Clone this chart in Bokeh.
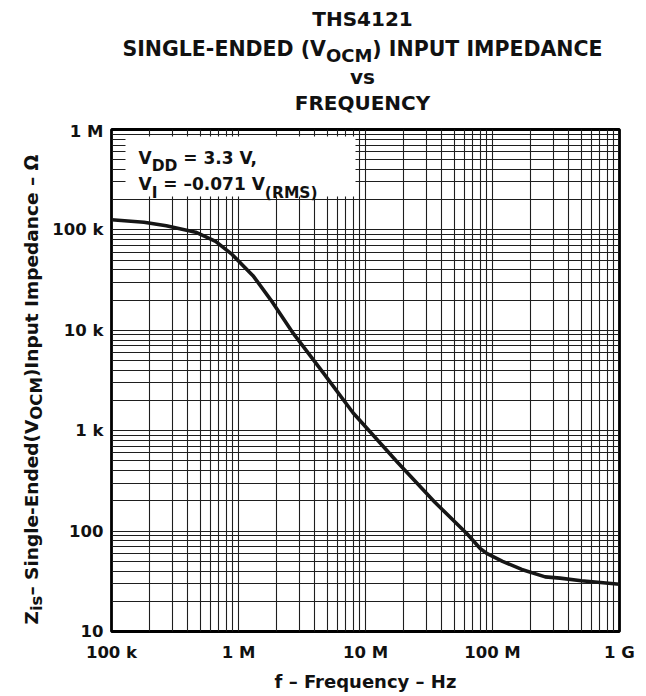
import math
from bokeh.plotting import figure
from bokeh.layouts import row, column
from bokeh.models import Label, BoxAnnotation, FixedTicker
from bokeh.embed import file_html
from bokeh.resources import INLINE

# ---- data ----
freq_hz = [1e5, 1.8e5, 2.7e5, 4.6e5, 6.6e5, 8.9e5, 1.3e6, 1.8e6, 2.7e6, 4.7e6,
           8.0e6, 1.8e7, 3.5e7, 6.3e7, 8.0e7, 9.0e7, 1.2e8, 1.7e8, 2.6e8, 3.4e8,
           5.0e8, 1e9]
z_ohm = [126e3, 119e3, 110e3, 95e3, 77e3, 57e3, 35e3, 20e3, 9.3e3, 3.7e3,
         1.5e3, 480, 195, 94, 67, 60, 50, 41.5, 35, 34,
         32, 29.5]

x_major = [1e5, 1e6, 1e7, 1e8, 1e9]
x_labels = ["100 k", "1 M", "10 M", "100 M", "1 G"]
y_major = [10, 100, 1e3, 1e4, 1e5, 1e6]
y_labels = ["10", "100", "1 k", "10 k", "100 k", "1 M"]

FONT = "DejaVu Sans"
INK = "#111111"

# DejaVu Sans Bold advance widths (em)
W = {" ": .348, "0": .696, "1": .696, "2": .696, "3": .696, "4": .696, "5": .696,
     "6": .696, "7": .696, "8": .696, "9": .696, "(": .457, ")": .457, "-": .415,
     "=": .838, ",": .380, ".": .380, "–": .500, "A": .774, "C": .734, "D": .830,
     "E": .683, "F": .683, "G": .821, "H": .837, "I": .372, "L": .637, "M": .995,
     "N": .837, "O": .850, "P": .733, "Q": .850, "R": .770, "S": .720, "T": .682,
     "U": .812, "V": .774, "Y": .724, "Z": .725, "a": .675, "c": .593, "d": .716,
     "e": .678, "f": .435, "g": .716, "i": .343, "k": .665, "l": .343, "m": 1.042,
     "n": .712, "p": .716, "q": .716, "r": .493, "s": .595, "t": .478, "u": .712,
     "v": .652, "y": .652, "z": .582, "Ω": .846}


def tw(s, size):
    return sum(W.get(c, .65) for c in s) * size


def blank(w, h):
    f = figure(width=w, height=h, output_backend="svg", toolbar_location=None,
               x_axis_location=None, y_axis_location=None,
               min_border=0, x_range=(0, 1), y_range=(0, 1))
    f.outline_line_color = None
    f.grid.visible = False
    f.background_fill_color = "white"
    f.border_fill_color = "white"
    return f


def put(fig, text, x, y, size, angle=0.0):
    fig.add_layout(Label(x=x, y=y, x_units="screen", y_units="screen", text=text,
                         text_font=FONT, text_font_style="bold",
                         text_font_size=f"{size}px", text_color=INK,
                         angle=angle, text_align="left",
                         text_baseline="alphabetic"))


def hrun(fig, parts, x0, y0, size, sub_size, drop, center=False):
    total = sum(tw(t, sub_size if s else size) for t, s in parts)
    x = x0 - total / 2 if center else x0
    for t, s in parts:
        sz = sub_size if s else size
        body = t.lstrip(" ")
        x += tw(t[:len(t) - len(body)], sz)
        put(fig, body, x, y0 - drop if s else y0, sz)
        x += tw(body, sz)


def vrun(fig, parts, x0, y0, size, sub_size, shift):
    y = y0
    for t, s in parts:
        sz = sub_size if s else size
        body = t.lstrip(" ")
        y += tw(t[:len(t) - len(body)], sz)
        put(fig, body, x0 + shift if s else x0, y, sz, angle=math.pi / 2)
        y += tw(body, sz)


LEFT_W, TITLE_H, MAIN_W, MAIN_H = 45, 121, 595, 573

# ---- main chart ----
p = figure(width=MAIN_W, height=MAIN_H, x_axis_type="log", y_axis_type="log",
           x_range=(1e5, 1e9), y_range=(10, 1e6),
           output_backend="svg", toolbar_location=None,
           min_border_left=66, min_border_right=21,
           min_border_top=8, min_border_bottom=58)
p.background_fill_color = "white"
p.border_fill_color = "white"
p.outline_line_color = "black"
p.outline_line_width = 2.8

minor_x = [m * 10 ** d for d in range(5, 9) for m in range(2, 10)]
minor_y = [m * 10 ** d for d in range(1, 6) for m in range(2, 10)]
p.xaxis.ticker = FixedTicker(ticks=x_major, minor_ticks=minor_x)
p.yaxis.ticker = FixedTicker(ticks=y_major, minor_ticks=minor_y)
p.xaxis.major_label_overrides = {v: s for v, s in zip(x_major, x_labels)}
p.yaxis.major_label_overrides = {v: s for v, s in zip(y_major, y_labels)}

for ax in (p.xaxis, p.yaxis):
    ax.axis_line_color = None
    ax.major_tick_line_color = None
    ax.minor_tick_line_color = None
    ax.major_tick_out = 0
    ax.major_tick_in = 0
    ax.minor_tick_out = 0
    ax.major_label_text_font = FONT
    ax.major_label_text_font_style = "bold"
    ax.major_label_text_font_size = "16.5px"
    ax.major_label_text_color = INK
p.xaxis.major_label_standoff = 11
p.yaxis.major_label_standoff = 8
p.xaxis.axis_label = "f – Frequency – Hz"
p.xaxis.axis_label_text_font = FONT
p.xaxis.axis_label_text_font_style = "bold"
p.xaxis.axis_label_text_font_size = "18px"
p.xaxis.axis_label_text_color = INK
p.xaxis.axis_label_standoff = 6

for g in (p.xgrid, p.ygrid):
    g.grid_line_color = "#1e1e1e"
    g.grid_line_width = 1.1
    g.minor_grid_line_color = "#1e1e1e"
    g.minor_grid_line_width = 1.1

p.line(freq_hz, z_ohm, line_color="#161616", line_width=3.6)

# white note box (frame-relative screen units)
p.add_layout(BoxAnnotation(left=14, right=244, bottom=435, top=495,
                           left_units="screen", right_units="screen",
                           top_units="screen", bottom_units="screen",
                           fill_color="white", fill_alpha=1.0, line_color=None))
hrun(p, [("V", False), ("DD", True), (" = 3.3 V,", False)], 27, 474, 17, 15.5, 8.5)
hrun(p, [("V", False), ("I", True), (" = –0.071 V", False), ("(RMS)", True)],
     27, 447.5, 17, 15.5, 9)

# ---- title panel (frame aligned with the chart frame) ----
t = blank(MAIN_W, TITLE_H)
cx = 362 - 111
top = TITLE_H + 8
hrun(t, [("THS4121", False)], cx, top - 26.5, 20, 16, 0, center=True)
hrun(t, [("SINGLE-ENDED (V", False), ("OCM", True), (") INPUT IMPEDANCE", False)],
     cx, top - 56, 20.5, 18, 7, center=True)
hrun(t, [("vs", False)], cx, top - 84, 20, 16, 0, center=True)
hrun(t, [("FREQUENCY", False)], cx, top - 110.5, 20, 16, 0, center=True)

# ---- y-axis title panel ----
TOTAL_H = TITLE_H + MAIN_H
yl = blank(LEFT_W, TOTAL_H)
vrun(yl, [("Z", False), ("is", True), ("– Single-Ended(V", False), ("OCM", True),
          (")Input Impedance – Ω", False)], 31, TOTAL_H - 624, 18.5, 16.5, 4.5)

layout = row(yl, column(t, p, spacing=0), spacing=0)
open("out.html", "w").write(file_html(layout, INLINE))
